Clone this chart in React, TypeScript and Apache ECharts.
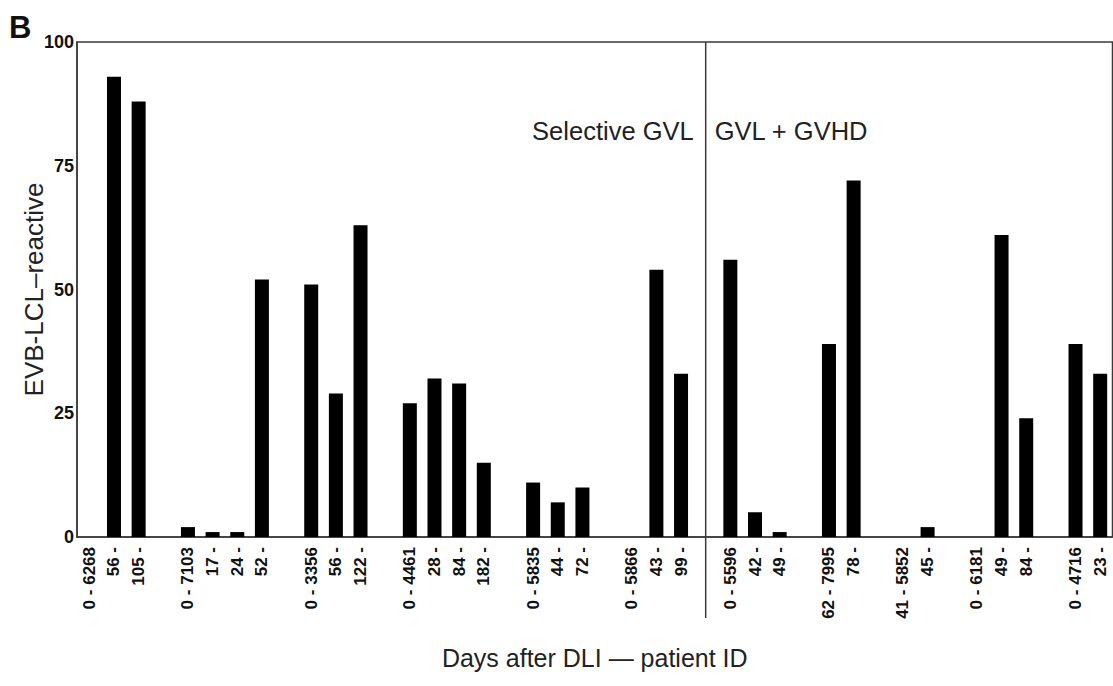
import React, { useEffect, useRef } from 'react';
import * as echarts from 'echarts';

// x categories: "days after DLI - patient ID"; '' = spacer slot between patients
const categories: string[] = [
  '0 - 6268', '56 -', '105 -', '',
  '0 - 7103', '17 -', '24 -', '52 -', '',
  '0 - 3356', '56 -', '122 -', '',
  '0 - 4461', '28 -', '84 -', '182 -', '',
  '0 - 5835', '44 -', '72 -', '',
  '0 - 5866', '43 -', '99 -', '',
  '0 - 5596', '42 -', '49 -', '',
  '62 - 7995', '78 -', '',
  '41 - 5852', '45 -', '',
  '0 - 6181', '49 -', '84 -', '',
  '0 - 4716', '23 -',
];

// EVB-LCL-reactive values (null = spacer)
const values: (number | null)[] = [
  0, 93, 88, null,
  2, 1, 1, 52, null,
  51, 29, 63, null,
  27, 32, 31, 15, null,
  11, 7, 10, null,
  0, 54, 33, null,
  56, 5, 1, null,
  39, 72, null,
  0, 2, null,
  0, 61, 24, null,
  39, 33,
];

const yTicks = [0, 25, 50, 75, 100];
const dividerIndex = 25;
const groupLabels = ['Selective GVL', 'GVL + GVHD'];
const annotationLevel = 82;

const FONT = '"Liberation Sans", Arial, Helvetica, sans-serif';

export default function App() {
  const ref = useRef<HTMLDivElement>(null);
  useEffect(() => {
    if (!ref.current) return;
    const chart = echarts.init(ref.current, null, { renderer: 'svg' });
    chart.setOption({
      animation: false,
      backgroundColor: '#ffffff',
      grid: {
        left: 77,
        right: 0.5,
        top: 42,
        bottom: 149,
        show: true,
        borderColor: '#3a3a3a',
        borderWidth: 1.5,
        backgroundColor: 'transparent',
      },
      xAxis: {
        type: 'category',
        data: categories,
        boundaryGap: true,
        axisLine: { show: true, lineStyle: { color: '#3a3a3a', width: 1.5 } },
        axisTick: { show: false },
        axisLabel: {
          interval: 0,
          rotate: 90,
          margin: 10,
          fontSize: 17,
          fontWeight: 'bold',
          color: '#111',
          fontFamily: FONT,
        },
        name: 'Days after DLI \u2014 patient ID',
        nameLocation: 'middle',
        nameGap: 108,
        nameTextStyle: { fontSize: 25, color: '#222', fontFamily: FONT },
      },
      yAxis: {
        type: 'value',
        min: yTicks[0],
        max: yTicks[yTicks.length - 1],
        interval: 25,
        splitLine: { show: false },
        axisLine: { show: true, lineStyle: { color: '#3a3a3a', width: 1.5 } },
        axisTick: { show: false },
        axisLabel: {
          margin: 3,
          fontSize: 18,
          fontWeight: 'bold',
          color: '#111',
          fontFamily: FONT,
        },
        name: 'EVB-LCL\u2013reactive',
        nameLocation: 'middle',
        nameGap: 30,
        nameMoveOverlap: false,
        nameTextStyle: { fontSize: 26, color: '#222', fontFamily: FONT },
      },
      series: [
        {
          type: 'bar',
          data: values,
          barWidth: 14,
          itemStyle: { color: '#000' },
        },
      ],
    });

    const xDiv = chart.convertToPixel({ xAxisIndex: 0 }, dividerIndex) as number;
    const yTop = chart.convertToPixel({ yAxisIndex: 0 }, yTicks[yTicks.length - 1]) as number;
    const yBase = chart.convertToPixel({ yAxisIndex: 0 }, 0) as number;
    const yAnn = chart.convertToPixel({ yAxisIndex: 0 }, annotationLevel) as number;

    chart.setOption({
      graphic: [
        {
          type: 'line',
          shape: { x1: xDiv, y1: yTop, x2: xDiv, y2: yBase + 81 },
          style: { stroke: '#3a3a3a', lineWidth: 1.5 },
          z: 10,
        },
        {
          type: 'text',
          x: xDiv - 12,
          y: yAnn,
          style: {
            text: groupLabels[0],
            align: 'right',
            verticalAlign: 'middle',
            fontSize: 25.5,
            fill: '#222',
            fontFamily: FONT,
          },
        },
        {
          type: 'text',
          x: xDiv + 9,
          y: yAnn,
          style: {
            text: groupLabels[1],
            align: 'left',
            verticalAlign: 'middle',
            fontSize: 25.5,
            fill: '#222',
            fontFamily: FONT,
          },
        },
        {
          type: 'text',
          x: 9,
          y: 12,
          style: {
            text: 'B',
            fontSize: 31,
            fontWeight: 'bold',
            fill: '#111',
            fontFamily: FONT,
          },
        },
      ],
    });

    return () => chart.dispose();
  }, []);

  return (
    <div
      ref={ref}
      style={{ position: 'fixed', left: 0, top: 0, width: 1113, height: 686, background: '#fff' }}
    />
  );
}
